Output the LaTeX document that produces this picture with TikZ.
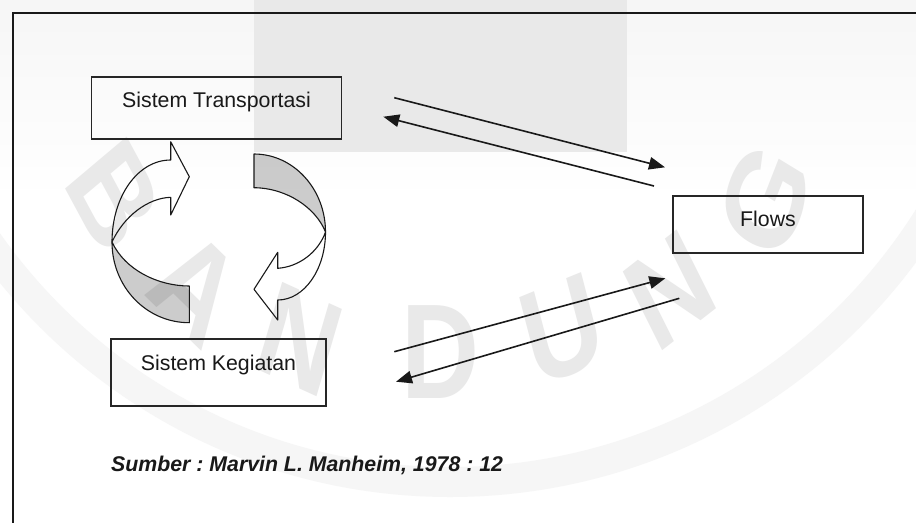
\documentclass[tikz,border=0pt]{standalone}
\usepackage{fontspec}
\setmainfont{Liberation Sans}
\usetikzlibrary{arrows.meta}
\frenchspacing

\begin{document}
\begin{tikzpicture}[x=1pt,y=-1pt,
  sysbox/.style={draw=black!85, line width=1.5pt, inner sep=0pt, text=black!90,
    text height=15.3pt, font=\fontsize{21.3}{24}\selectfont},
  flowline/.style={draw=black!90, line width=1.6pt, -{Triangle[length=16pt,width=12.5pt]}},
  ribbon/.style={draw=black!90, line width=1.1pt, line join=round},
  backface/.style={ribbon, fill=black, fill opacity=0.2},
  wmark/.style={text=gray!17, inner sep=0pt, font=\fontsize{135}{135}\bfseries\selectfont},
]
% page
\fill[white] (0,0) rectangle (916,523);
\useasboundingbox (0,0) rectangle (916,523);
\shade[top color=gray!7, bottom color=white] (0,0) rectangle (916,200);

% background stamp
\fill[gray!17] (254,0) rectangle (627,152);
\draw[gray!7, line width=30pt] (450,-83) circle[radius=565];
\node[wmark, xscale=0.8, rotate=-56] (wmB)  at (114,196) {B};
\node[wmark, xscale=0.8, rotate=-38] (wmA)  at (196,287) {A};
\node[wmark, xscale=0.8, rotate=-20] (wmN)  at (300,340) {N};
\node[wmark, xscale=0.8]             (wmD)  at (440,352) {D};
\node[wmark, xscale=0.8, rotate=18]  (wmU)  at (562,330) {U};
\node[wmark, xscale=0.8, rotate=32]  (wmNb) at (670,290) {N};
\node[wmark, xscale=0.8, rotate=64]  (wmG)  at (765,200) {G};

% frame
\draw[black!90, line width=1.4pt] (916,13) -- (13,13) -- (13,523);

% systems
\node[sysbox, minimum width=250pt, minimum height=62pt, text depth=17pt] (trans) at (216.5,108) {Sistem Transportasi};
\node[sysbox, minimum width=190pt, minimum height=57pt, text depth=12pt] (flows) at (768,224.5) {Flows};
\node[sysbox, minimum width=215pt, minimum height=67pt, text depth=20pt] (keg) at (218.5,372.5) {Sistem Kegiatan};

% flows between the systems
\coordinate (t1s) at (394.3,97.7);  \coordinate (t1e) at (665,167.3);
\coordinate (t2s) at (654,186);     \coordinate (t2e) at (383.3,116.7);
\coordinate (b1s) at (394.3,351.7); \coordinate (b1e) at (665.3,278.3);
\coordinate (b2s) at (679.3,298.3); \coordinate (b2e) at (396,381.7);
\draw[flowline] (t1s) -- (t1e);
\draw[flowline] (t2s) -- (t2e);
\draw[flowline] (b1s) -- (b1e);
\draw[flowline] (b2s) -- (b2e);

% left circular arrow (upward)
\draw[ribbon] (170.7,160) -- (170.7,141.7) -- (189.3,176.7) -- (170.7,215) -- (170.7,197.3)
  .. controls (148,198) and (124,216) .. (112,242)
  .. controls (112,196.7) and (137.7,160) .. (170.7,160) -- cycle;
\draw[backface] (112,242) .. controls (112,286.6) and (146.1,322.7) .. (189.3,322.7)
  -- (189.3,286) .. controls (158,286) and (125,270) .. (112,242) -- cycle;

% right circular arrow (downward)
\draw[backface] (254,154) .. controls (293.5,154) and (325.5,189) .. (325.5,232)
  .. controls (316,208) and (287,188) .. (254,187.7) -- cycle;
\draw[ribbon] (325.5,232) .. controls (325.5,269.6) and (304.1,300) .. (277.7,300)
  -- (277.7,320) -- (254,289.3) -- (277.7,252.3) -- (277.7,268.3)
  .. controls (298,267) and (318,253) .. (325.5,232) -- cycle;

% source
\node[anchor=base west, inner sep=0pt, text=black!90,
  font=\fontsize{21.3}{24}\selectfont\bfseries\itshape] (src) at (111,471)
  {Sumber : Marvin L. Manheim, 1978 : 12};
\end{tikzpicture}
\end{document}
